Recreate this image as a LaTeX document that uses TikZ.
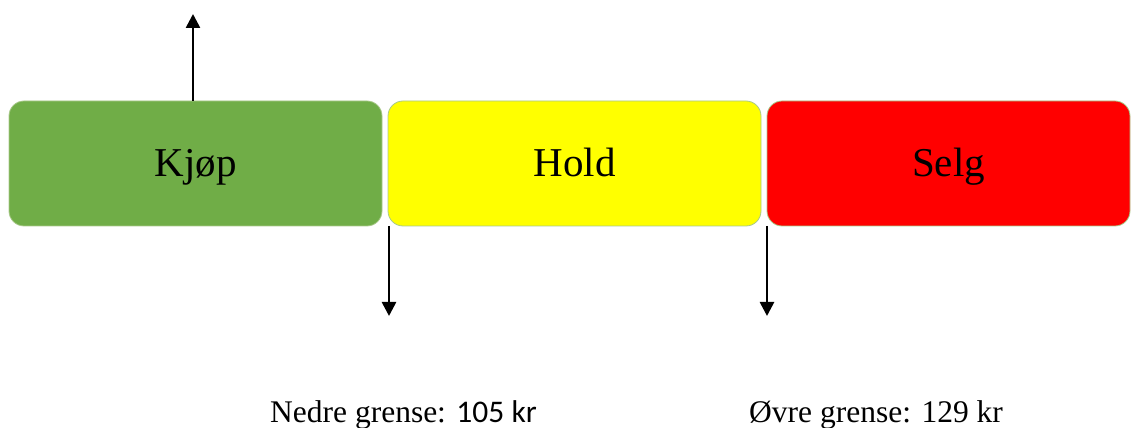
\documentclass[tikz,border=0pt]{standalone}
\usepackage{fontspec}
\setmainfont{Liberation Serif}
\newfontfamily\calibri{Carlito}
\usetikzlibrary{arrows.meta}
\definecolor{kjopgreen}{HTML}{70AD47}
\definecolor{holdyellow}{HTML}{FFFF00}
\definecolor{selgred}{HTML}{FF0000}
\definecolor{edgegreen}{HTML}{A9C98A}
\begin{document}
\begin{tikzpicture}[x=1pt,y=1pt,
  zone/.style={draw=edgegreen, line width=0.8pt, rounded corners=15pt,
    minimum height=125pt, inner sep=0pt,
    font=\fontsize{41}{41}\selectfont, text height=27pt, text depth=0pt},
  limit/.style={line width=2.6pt,
    -{Triangle[width=14pt,length=14pt]}},
  bound/.style={anchor=base west, inner sep=0pt,
    font=\fontsize{31.5}{31.5}\selectfont}]
  \useasboundingbox (0,0) rectangle (1132,428);

  % three decision zones
  \node[zone, fill=kjopgreen, minimum width=373pt] (kjop) at (195.5,264.5) {Kjøp};
  \node[zone, fill=holdyellow, minimum width=373pt] (hold) at (574.5,264.5) {Hold};
  \node[zone, fill=selgred, minimum width=363pt] (selg) at (948.5,264.5) {Selg};

  % arrow ends
  \coordinate (up) at (193,414);
  \coordinate (lowtop) at (389,202);
  \coordinate (lowend) at (389,112);
  \coordinate (hightop) at (767,202);
  \coordinate (highend) at (767,112);

  \draw[limit] (kjop.north -| up) -- (up);
  \draw[limit] (lowtop) -- (lowend);
  \draw[limit] (hightop) -- (highend);

  % threshold labels
  \node[bound] (nedre) at (270,5) {Nedre grense: {\calibri 105 kr}};
  \node[bound] (ovre) at (749,5) {Øvre grense: 129 kr};
\end{tikzpicture}
\end{document}
